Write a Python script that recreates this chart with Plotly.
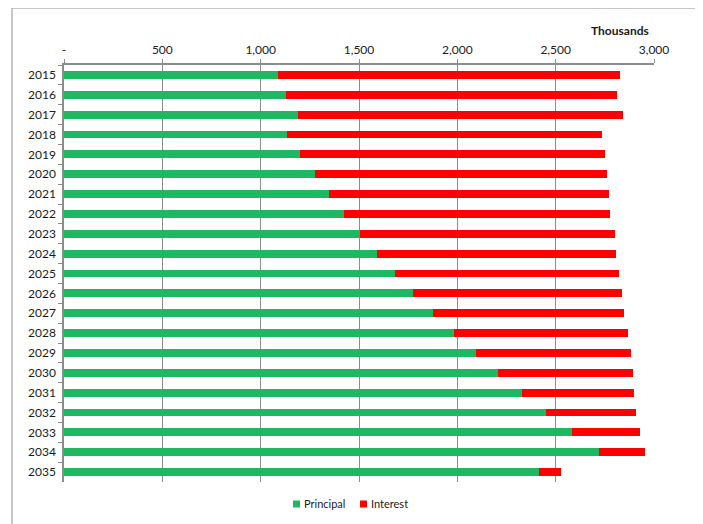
import plotly.graph_objects as go

years = [str(y) for y in range(2015, 2036)]
principal = [1086, 1128, 1189, 1133, 1201, 1274, 1347, 1423, 1506, 1590, 1684,
             1777, 1877, 1984, 2095, 2209, 2327, 2453, 2583, 2722, 2417]
totals = [2825, 2812, 2842, 2734, 2749, 2759, 2769, 2776, 2802, 2807, 2822,
          2837, 2847, 2869, 2883, 2895, 2900, 2910, 2930, 2952, 2525]
interest = [t - p for t, p in zip(totals, principal)]

x_tickvals = [0, 500, 1000, 1500, 2000, 2500, 3000]
x_ticktext = ["-", "500", "1,000", "1,500", "2,000", "2,500", "3,000"]

GREEN = "#1FB862"
RED = "#FF0000"
FONT = "Lato"

fig = go.Figure()
fig.add_trace(go.Bar(y=years, x=principal, orientation="h", name="Principal",
                     marker=dict(color=GREEN, line=dict(width=0))))
fig.add_trace(go.Bar(y=years, x=interest, orientation="h", name="Interest",
                     marker=dict(color=RED, line=dict(width=0))))

# target screen positions (page has 8px body margin)
OFF = 8
L, R, T, B = 64, 654, 65, 482
W, H = 703 - OFF, 524 - OFF
pw, ph = R - L, B - T

def px_x(px):
    return (px - L) / pw

def px_y(py):
    return (B - py) / ph

def legend_box(x0, color):
    return dict(type="rect", xref="paper", yref="paper",
                x0=px_x(x0), x1=px_x(x0 + 7), y0=px_y(500.5), y1=px_y(507.5),
                fillcolor=color, line=dict(width=0))

fig.update_layout(
    width=W, height=H,
    barmode="stack",
    bargap=0.6,
    plot_bgcolor="white",
    paper_bgcolor="white",
    margin=dict(l=L - OFF, r=W - (R - OFF), t=T - OFF, b=H - (B - OFF), pad=0, autoexpand=False),
    font=dict(family=FONT, size=12, color="#1a1a1a"),
    showlegend=False,
    xaxis=dict(side="top", range=[0, 3000], tickvals=x_tickvals, ticktext=x_ticktext,
               showgrid=True, gridcolor="#8c8c8c", gridwidth=1,
               showline=True, linecolor="#8c8c8c", linewidth=1.5,
               ticks="outside", ticklen=4, tickcolor="#8c8c8c",
               zeroline=False, fixedrange=True, automargin=False),
    yaxis=dict(type="category", autorange="reversed",
               showline=True, linecolor="#8c8c8c", linewidth=1.5,
               ticks="outside", ticklen=4, tickcolor="#8c8c8c", tickson="boundaries",
               showgrid=False, zeroline=False, ticklabelstandoff=4, automargin=False),
    shapes=[
        dict(type="line", xref="paper", yref="paper", x0=px_x(12), x1=px_x(720),
             y0=px_y(8), y1=px_y(8), line=dict(color="#b3b3b3", width=1.5)),
        dict(type="line", xref="paper", yref="paper", x0=px_x(12), x1=px_x(12),
             y0=px_y(8), y1=px_y(540), line=dict(color="#b3b3b3", width=1.5)),
        legend_box(293, GREEN),
        legend_box(360, RED),
    ],
    annotations=[
        dict(text="<b>Thousands</b>", xref="paper", yref="paper", x=px_x(651), y=px_y(30),
             xanchor="right", yanchor="middle", showarrow=False,
             font=dict(size=12, family=FONT, color="#1a1a1a")),
        dict(text="Principal", xref="paper", yref="paper", x=px_x(302), y=px_y(504),
             xanchor="left", yanchor="middle", showarrow=False,
             font=dict(size=11, family=FONT, color="#1a1a1a")),
        dict(text="Interest", xref="paper", yref="paper", x=px_x(369), y=px_y(504),
             xanchor="left", yanchor="middle", showarrow=False,
             font=dict(size=11, family=FONT, color="#1a1a1a")),
    ],
)

fig.write_html("out.html")
